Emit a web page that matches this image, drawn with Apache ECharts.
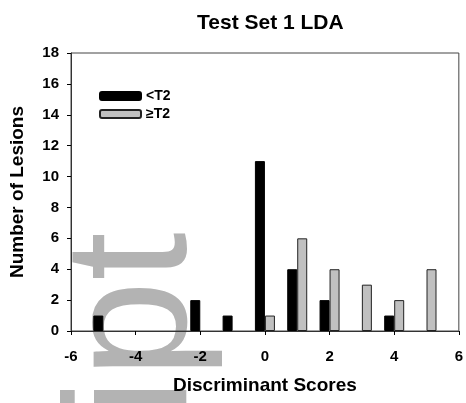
<!DOCTYPE html>
<html>
<head>
<meta charset="utf-8">
<script src="https://cdn.jsdelivr.net/npm/echarts@6/dist/echarts.min.js"></script>
<style>html,body{margin:0;padding:0;background:#fff}#c{width:466px;height:403px}</style>
</head>
<body>
<div id="c"></div>
<script>
var bins = [-5, -4, -3, -2, -1, 0, 1, 2, 3, 4, 5];
var belowT2 = [1, 0, 0, 2, 1, 11, 4, 2, 0, 1, 0];
var atLeastT2 = [0, 0, 0, 0, 0, 1, 6, 4, 3, 2, 4];
var xTicks = [-6, -4, -2, 0, 2, 4, 6];
var yTicks = [0, 2, 4, 6, 8, 10, 12, 14, 16, 18];

function pairs(vals) {
  var out = [];
  for (var i = 0; i < bins.length; i++) if (vals[i] > 0) out.push([bins[i], vals[i]]);
  return out;
}
var F = '"Liberation Sans", Arial, sans-serif';
var chart = echarts.init(document.getElementById('c'), null, {renderer: 'canvas'});
chart.setOption({
  animation: false,
  backgroundColor: '#fff',
  title: {
    text: 'Test Set 1 LDA', left: 192, top: 8,
    textStyle: {fontFamily: F, fontWeight: 'bold', fontSize: 21, color: '#000'}
  },
  legend: {
    orient: 'vertical', left: 94, top: 84, itemWidth: 41, itemHeight: 8, itemGap: 4,
    textStyle: {fontFamily: F, fontWeight: 'bold', fontSize: 14, color: '#000'},
    data: ['<T2', '≥T2']
  },
  grid: {left: 70, right: 4, top: 53, bottom: 72, show: true, borderColor: '#444', borderWidth: 1},
  xAxis: {
    type: 'value', min: xTicks[0], max: xTicks[xTicks.length - 1], interval: 2,
    name: 'Discriminant Scores', nameLocation: 'middle', nameGap: 45,
    nameTextStyle: {fontFamily: F, fontWeight: 'bold', fontSize: 19, color: '#000'},
    axisLine: {onZero: false, lineStyle: {color: '#333', width: 1}},
    axisTick: {show: true, inside: false, length: 4, lineStyle: {color: '#000'}},
    axisLabel: {fontFamily: F, fontWeight: 'bold', fontSize: 15, color: '#000', margin: 18},
    splitLine: {show: false}
  },
  yAxis: {
    type: 'value', min: yTicks[0], max: yTicks[yTicks.length - 1], interval: 2,
    name: 'Number of Lesions', nameLocation: 'middle', nameGap: 44,
    nameTextStyle: {fontFamily: F, fontWeight: 'bold', fontSize: 19, color: '#000'},
    axisLine: {show: true, onZero: false, lineStyle: {color: '#333', width: 1}},
    axisTick: {show: true, inside: false, length: 4, lineStyle: {color: '#000'}},
    axisLabel: {fontFamily: F, fontWeight: 'bold', fontSize: 15, color: '#000', margin: 12},
    splitLine: {show: false}
  },
  graphic: [{
    type: 'text', x: 225, y: 417, rotation: Math.PI / 2, z: -10, silent: true,
    style: {text: 'ipt', font: '175px "Liberation Sans", Arial, sans-serif', fill: '#b3b3b3',
      textAlign: 'left', textVerticalAlign: 'bottom'}
  }],
  series: [
    {name: '<T2', type: 'bar', barWidth: 10, barGap: '0%', data: pairs(belowT2),
      itemStyle: {color: '#000', borderColor: '#000', borderWidth: 1}},
    {name: '≥T2', type: 'bar', barWidth: 10, barGap: '0%', data: pairs(atLeastT2),
      itemStyle: {color: '#c0c0c0', borderColor: '#222', borderWidth: 1}}
  ]
});
</script>
</body>
</html>
